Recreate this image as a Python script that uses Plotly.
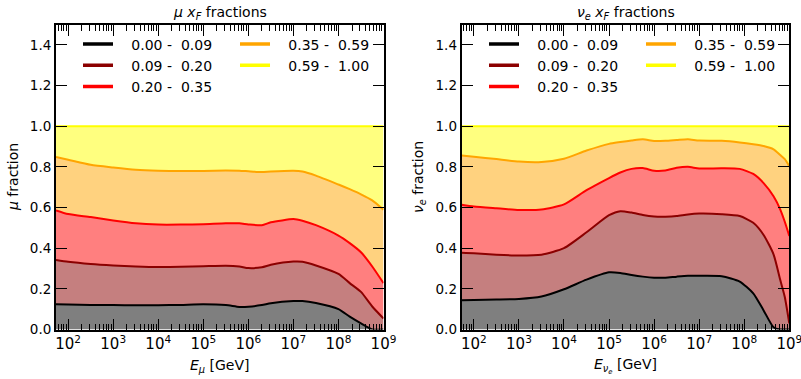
import plotly.graph_objects as go

# ---------------- data ----------------
LEGEND_LABELS = ["0.00 -  0.09", "0.09 -  0.20", "0.20 -  0.35", "0.35 -  0.59", "0.59 -  1.00"]
LINE_COLORS = ["#000000", "#8b0000", "#ff0000", "#ffa500", "#ffff00"]
FILL_COLORS = ["rgba(0,0,0,0.5)", "rgba(139,0,0,0.5)", "rgba(255,0,0,0.5)",
               "rgba(255,165,0,0.5)", "rgba(255,255,0,0.5)"]

# muon panel: log10(E/GeV) grid and cumulative fraction boundaries
MU_LOGE = [1.73, 2.0, 2.5, 3.0, 3.5, 4.0, 4.5, 5.0, 5.5, 5.8, 6.0, 6.3, 6.5, 7.0, 7.2, 7.5, 8.0, 8.25, 8.5, 8.75, 9.0]
MU_B1 = [0.124, 0.123, 0.121, 0.120, 0.119, 0.119, 0.121, 0.124, 0.120, 0.111, 0.112, 0.120, 0.129, 0.140, 0.140, 0.130, 0.100, 0.063, 0.030, 0.0, 0.0]
MU_B2 = [0.342, 0.333, 0.322, 0.315, 0.310, 0.307, 0.308, 0.311, 0.314, 0.310, 0.302, 0.306, 0.318, 0.334, 0.333, 0.315, 0.273, 0.228, 0.185, 0.113, 0.054]
MU_B3 = [0.586, 0.568, 0.553, 0.536, 0.522, 0.516, 0.516, 0.518, 0.522, 0.522, 0.517, 0.513, 0.527, 0.543, 0.535, 0.513, 0.462, 0.425, 0.380, 0.310, 0.228]
MU_B4 = [0.848, 0.835, 0.810, 0.797, 0.786, 0.781, 0.779, 0.780, 0.782, 0.781, 0.778, 0.774, 0.777, 0.781, 0.777, 0.757, 0.713, 0.690, 0.665, 0.635, 0.589]
MU_B5 = [1.0] * len(MU_LOGE)

# nu_e panel
NU_LOGE = [1.73, 2.0, 2.5, 3.0, 3.5, 4.0, 4.5, 5.0, 5.25, 5.5, 5.75, 6.0, 6.25, 6.5, 6.75, 7.0, 7.5, 7.9, 8.2, 8.43, 8.65, 8.8, 8.9, 9.0]
NU_B1 = [0.144, 0.145, 0.147, 0.150, 0.162, 0.198, 0.245, 0.281, 0.278, 0.268, 0.260, 0.255, 0.255, 0.260, 0.264, 0.264, 0.262, 0.236, 0.178, 0.094, 0.011, 0.0, 0.0, 0.0]
NU_B2 = [0.377, 0.375, 0.368, 0.364, 0.368, 0.400, 0.478, 0.562, 0.582, 0.575, 0.563, 0.556, 0.555, 0.558, 0.566, 0.570, 0.567, 0.558, 0.525, 0.465, 0.370, 0.243, 0.160, 0.030]
NU_B3 = [0.614, 0.605, 0.596, 0.588, 0.590, 0.615, 0.685, 0.745, 0.772, 0.790, 0.794, 0.781, 0.782, 0.795, 0.800, 0.792, 0.793, 0.790, 0.765, 0.720, 0.655, 0.590, 0.530, 0.460]
NU_B4 = [0.856, 0.850, 0.838, 0.826, 0.824, 0.840, 0.880, 0.913, 0.922, 0.930, 0.936, 0.927, 0.928, 0.932, 0.936, 0.929, 0.928, 0.920, 0.911, 0.902, 0.886, 0.858, 0.838, 0.803]
NU_B5 = [1.0] * len(NU_LOGE)

X_RANGE = [1.73, 9.0]
Y_RANGE = [0.0, 1.5]

FONT = "DejaVu Sans"

fig = go.Figure()


def add_panel(loge, bounds, xa, ya, legends):
    x = [10 ** v for v in loge]
    # baseline
    fig.add_trace(go.Scatter(x=x, y=[0.0] * len(x), mode="lines", line=dict(width=0, color="rgba(0,0,0,0)"),
                             xaxis=xa, yaxis=ya, showlegend=False, hoverinfo="skip"))
    for i, b in enumerate(bounds):
        fig.add_trace(go.Scatter(x=x, y=b, mode="lines", fill="tonexty", fillcolor=FILL_COLORS[i],
                                 line=dict(color=LINE_COLORS[i], width=2, shape="spline", smoothing=0.6),
                                 xaxis=xa, yaxis=ya, showlegend=False, hoverinfo="skip"))
    # legend entries (line only)
    for i, lab in enumerate(LEGEND_LABELS):
        fig.add_trace(go.Scatter(x=[None], y=[None], mode="lines",
                                 name="\u00a0\u00a0\u00a0" + lab.replace(" ", "\u00a0"),
                                 line=dict(color=LINE_COLORS[i], width=3.5),
                                 xaxis=xa, yaxis=ya, legend=legends[0] if i < 3 else legends[1]))


add_panel(MU_LOGE, [MU_B1, MU_B2, MU_B3, MU_B4, MU_B5], "x", "y", ["legend", "legend2"])
add_panel(NU_LOGE, [NU_B1, NU_B2, NU_B3, NU_B4, NU_B5], "x2", "y2", ["legend3", "legend4"])

W, H = 801, 379
ydom = [(H - 329.5) / H, (H - 24.5) / H]

common_x = dict(type="log", range=X_RANGE, dtick=1, exponentformat="power", showgrid=False, zeroline=False,
                showline=True, linecolor="black", linewidth=2, mirror="allticks", automargin=False,
                ticklabeloverflow="allow",
                ticks="inside", ticklen=11, tickwidth=1.2, tickcolor="black",
                minor=dict(ticks="inside", ticklen=6, tickwidth=1, tickcolor="black", dtick="D1", showgrid=False),
                tickfont=dict(family=FONT, size=12, color="black"))
common_y = dict(range=Y_RANGE, dtick=0.2, tickformat=".1f", showgrid=False, zeroline=False,
                showline=True, linecolor="black", linewidth=2, mirror="allticks", automargin=False,
                ticklabeloverflow="allow",
                ticks="inside", ticklen=11, tickwidth=1.2, tickcolor="black",
                tickfont=dict(family=FONT, size=13.5, color="black"))

leg_common = dict(font=dict(family=FONT, size=14, color="black"), bgcolor="rgba(0,0,0,0)",
                  borderwidth=0, xanchor="left", yanchor="top", orientation="v", tracegroupgap=0,
                  traceorder="normal")

LEG_TOP = 1 - 28.5 / H

fig.update_layout(
    template="none",
    width=W, height=H, margin=dict(l=0, r=0, t=0, b=0, pad=0), autosize=False,
    paper_bgcolor="white", plot_bgcolor="white",
    font=dict(family=FONT, color="black"),
    xaxis=dict(domain=[56 / W, 383.5 / W], anchor="y", **common_x),
    yaxis=dict(domain=ydom, anchor="x", **common_y),
    xaxis2=dict(domain=[461.7 / W, 789.3 / W], anchor="y2", **common_x),
    yaxis2=dict(domain=ydom, anchor="x2", **common_y),
    legend=dict(x=78 / W, y=LEG_TOP, **leg_common),
    legend2=dict(x=235 / W, y=LEG_TOP, **leg_common),
    legend3=dict(x=484 / W, y=LEG_TOP, **leg_common),
    legend4=dict(x=641 / W, y=LEG_TOP, **leg_common),
    annotations=[
        dict(text="<i>μ x</i><sub><i>F</i></sub> fractions", x=220 / W, y=1 - 13 / H, xref="paper", yref="paper",
             showarrow=False, font=dict(family=FONT, size=14), xanchor="center", yanchor="middle"),
        dict(text="<i>ν</i><sub><i>e</i></sub> <i>x</i><sub><i>F</i></sub> fractions", x=625.5 / W, y=1 - 13 / H,
             xref="paper", yref="paper", showarrow=False, font=dict(family=FONT, size=14),
             xanchor="center", yanchor="middle"),
        dict(text="<i>E</i><sub><i>μ</i></sub> [GeV]", x=220 / W, y=1 - 366 / H, xref="paper", yref="paper",
             showarrow=False, font=dict(family=FONT, size=14), xanchor="center", yanchor="middle"),
        dict(text="<i>E</i><sub><i>ν<sub>e</sub></i></sub> [GeV]", x=625.5 / W, y=1 - 366 / H, xref="paper",
             yref="paper", showarrow=False, font=dict(family=FONT, size=14), xanchor="center", yanchor="middle"),
        dict(text="<i>μ</i> fraction", x=13 / W, y=1 - 177 / H, xref="paper", yref="paper", textangle=-90,
             showarrow=False, font=dict(family=FONT, size=14), xanchor="center", yanchor="middle"),
        dict(text="<i>ν</i><sub><i>e</i></sub> fraction", x=419 / W, y=1 - 177 / H, xref="paper", yref="paper",
             textangle=-90, showarrow=False, font=dict(family=FONT, size=14), xanchor="center", yanchor="middle"),
    ],
)

fig.write_html("out.html")
